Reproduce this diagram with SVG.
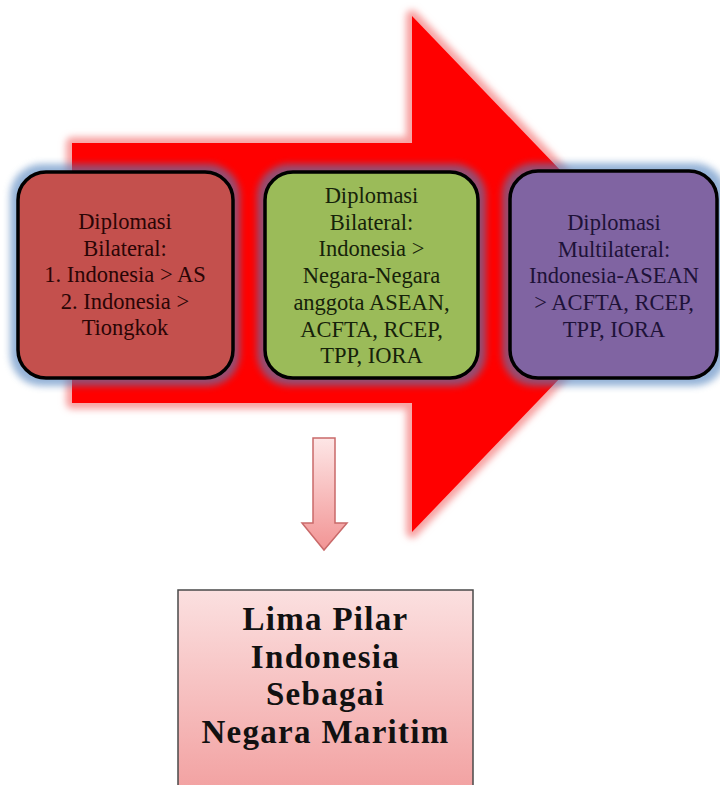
<svg xmlns="http://www.w3.org/2000/svg" width="720" height="785" viewBox="0 0 720 785">
  <defs>
    <filter id="soft" x="-20%" y="-20%" width="140%" height="140%">
      <feGaussianBlur stdDeviation="3.5"/>
    </filter>
    <filter id="glow" x="-20%" y="-20%" width="140%" height="140%">
      <feGaussianBlur stdDeviation="3.5"/>
    </filter>
    <linearGradient id="downGrad" x1="0" y1="0" x2="0" y2="1">
      <stop offset="0" stop-color="#fde6e6"/>
      <stop offset="1" stop-color="#f29494"/>
    </linearGradient>
    <linearGradient id="boxGrad" x1="0" y1="0" x2="0" y2="1">
      <stop offset="0" stop-color="#fbe0e0"/>
      <stop offset="1" stop-color="#f2a0a0"/>
    </linearGradient>
    <style>
      .card { stroke: #000; stroke-width: 3.5; }
      .halo { fill: #4f81bd; opacity: 0.6; filter: url(#glow); }
      text.t { font-family: "Liberation Serif", "Times New Roman", serif; font-size: 22.5px; text-anchor: middle; }
      .c1 { fill: #2a0505; }
      .c2 { fill: #16220a; }
      .c3 { fill: #1e1238; }
      text.tb { font-family: "Liberation Serif", "Times New Roman", serif; font-size: 33px; font-weight: bold; text-anchor: middle; fill: #111; letter-spacing: 1.3px; }
    </style>
  </defs>

  <rect width="720" height="785" fill="#ffffff"/>

  <!-- big red arrow -->
  <g id="bigArrow">
    <path d="M72,143 H412 V16 L660,274 L412,532 V403 H72 Z" fill="none" stroke="#f7a0a0" stroke-width="12" stroke-linejoin="round" filter="url(#soft)"/>
    <path d="M72,143 H412 V16 L660,274 L412,532 V403 H72 Z" fill="#ff0000"/>
  </g>

  <!-- node 1 -->
  <g id="node1" class="node">
    <rect class="halo" x="10" y="164" width="230" height="222" rx="32"/>
    <rect class="card" x="18" y="172" width="215" height="206" rx="28" fill="#c4504d"/>
    <text class="t c1" x="125" y="229">Diplomasi</text>
    <text class="t c1" x="125" y="255.5">Bilateral:</text>
    <text class="t c1" x="125" y="282">1. Indonesia &gt; AS</text>
    <text class="t c1" x="125" y="308.5">2. Indonesia &gt;</text>
    <text class="t c1" x="125" y="335">Tiongkok</text>
  </g>

  <!-- node 2 -->
  <g id="node2" class="node">
    <rect class="halo" x="257" y="164" width="229" height="222" rx="32"/>
    <rect class="card" x="265" y="172" width="213" height="206" rx="28" fill="#9bbb59"/>
    <text class="t c2" x="371.5" y="203">Diplomasi</text>
    <text class="t c2" x="371.5" y="229.5">Bilateral:</text>
    <text class="t c2" x="371.5" y="256">Indonesia &gt;</text>
    <text class="t c2" x="371.5" y="283">Negara-Negara</text>
    <text class="t c2" x="371.5" y="310">anggota ASEAN,</text>
    <text class="t c2" x="371.5" y="336.5">ACFTA, RCEP,</text>
    <text class="t c2" x="371.5" y="363">TPP, IORA</text>
  </g>

  <!-- node 3 -->
  <g id="node3" class="node">
    <rect class="halo" x="502" y="163" width="224" height="223" rx="32"/>
    <rect class="card" x="510" y="171" width="207" height="207" rx="28" fill="#8064a2"/>
    <text class="t c3" x="614" y="230">Diplomasi</text>
    <text class="t c3" x="614" y="256.5">Multilateral:</text>
    <text class="t c3" x="614" y="283">Indonesia-ASEAN</text>
    <text class="t c3" x="614" y="310">&gt; ACFTA, RCEP,</text>
    <text class="t c3" x="614" y="337">TPP, IORA</text>
  </g>

  <!-- connector -->
  <g id="connectors">
    <path d="M313,438 H335 V523 H347 L324,550 L302,523 H313 Z" fill="url(#downGrad)" stroke="#c96a6a" stroke-width="1.5" stroke-linejoin="miter"/>
  </g>

  <!-- bottom node -->
  <g id="node4" class="node">
    <rect x="178" y="590" width="295" height="205" fill="url(#boxGrad)" stroke="#4a4a4a" stroke-width="1.5"/>
    <text class="tb" x="325.5" y="630">Lima Pilar</text>
    <text class="tb" x="325.5" y="667.5">Indonesia</text>
    <text class="tb" x="325.5" y="705">Sebagai</text>
    <text class="tb" x="325.5" y="742.5">Negara Maritim</text>
  </g>
</svg>
